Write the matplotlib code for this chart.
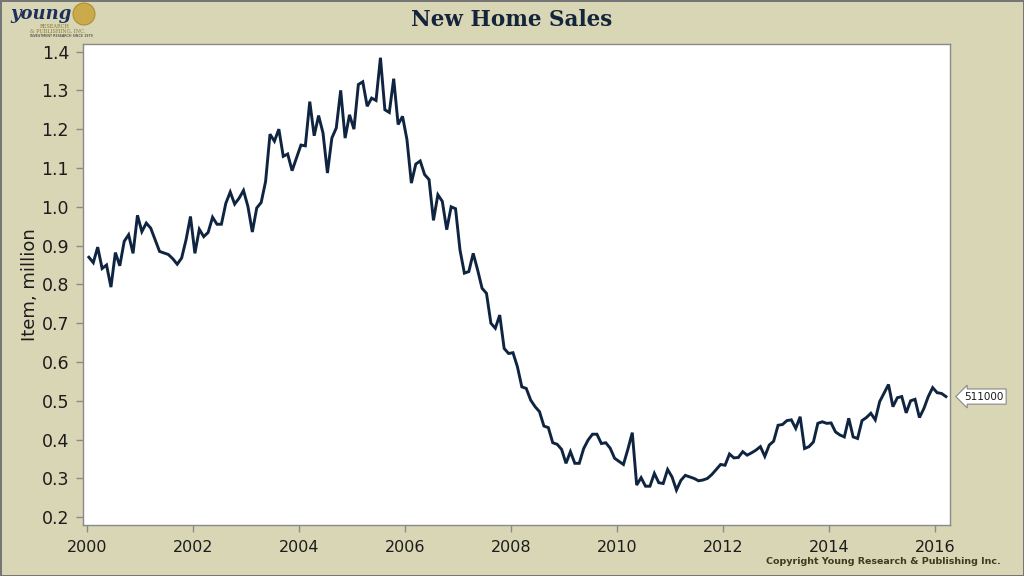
import numpy as np
import matplotlib
matplotlib.use('Agg')
import matplotlib.pyplot as plt
from matplotlib.patches import Circle
from matplotlib.transforms import IdentityTransform, blended_transform_factory

# --- DATA (new home sales, million, monthly from Jan 2000) ---
start_year = 2000
sales = [
    0.870, 0.856, 0.896, 0.841, 0.850, 0.793, 0.882, 0.848, 0.911, 0.928, 0.880, 0.978,  # 2000
    0.936, 0.958, 0.945, 0.915, 0.885, 0.881, 0.877, 0.866, 0.852, 0.868, 0.915, 0.975,  # 2001
    0.880, 0.942, 0.923, 0.934, 0.973, 0.955, 0.955, 1.009, 1.038, 1.007, 1.022, 1.042,  # 2002
    1.001, 0.935, 0.997, 1.011, 1.065, 1.187, 1.169, 1.200, 1.130, 1.136, 1.093, 1.126,  # 2003
    1.159, 1.157, 1.271, 1.183, 1.235, 1.190, 1.087, 1.177, 1.203, 1.300, 1.177, 1.237,  # 2004
    1.200, 1.315, 1.322, 1.259, 1.280, 1.274, 1.384, 1.250, 1.243, 1.330, 1.212, 1.233,  # 2005
    1.173, 1.061, 1.110, 1.118, 1.083, 1.070, 0.965, 1.031, 1.014, 0.941, 1.000, 0.995,  # 2006
    0.889, 0.829, 0.833, 0.880, 0.837, 0.790, 0.777, 0.700, 0.687, 0.721, 0.635, 0.622,  # 2007
    0.624, 0.588, 0.536, 0.532, 0.502, 0.485, 0.472, 0.435, 0.431, 0.392, 0.388, 0.375,  # 2008
    0.339, 0.369, 0.339, 0.339, 0.377, 0.399, 0.414, 0.414, 0.390, 0.392, 0.378, 0.352,  # 2009
    0.344, 0.336, 0.375, 0.418, 0.283, 0.302, 0.280, 0.280, 0.313, 0.289, 0.287, 0.323,  # 2010
    0.304, 0.270, 0.295, 0.308, 0.304, 0.300, 0.294, 0.296, 0.300, 0.310, 0.323, 0.336,  # 2011
    0.334, 0.363, 0.353, 0.354, 0.369, 0.360, 0.366, 0.373, 0.382, 0.357, 0.386, 0.396,  # 2012
    0.437, 0.439, 0.449, 0.451, 0.429, 0.459, 0.377, 0.382, 0.394, 0.442, 0.446, 0.442,  # 2013
    0.443, 0.420, 0.412, 0.407, 0.455, 0.407, 0.403, 0.449, 0.457, 0.468, 0.451, 0.498,  # 2014
    0.520, 0.542, 0.485, 0.508, 0.511, 0.469, 0.500, 0.504, 0.457, 0.480, 0.511, 0.534,  # 2015
    0.521, 0.519, 0.511,                                                                 # 2016
]
xtick_years = list(range(2000, 2017, 2))
ytick_vals = [0.2, 0.3, 0.4, 0.5, 0.6, 0.7, 0.8, 0.9, 1.0, 1.1, 1.2, 1.3, 1.4]
last_label = '511000'
title = 'New Home Sales'
ylabel = 'Item, million'
copyright_txt = 'Copyright Young Research & Publishing Inc.'

# --- STYLE ---
C = dict(bg='#d8d6b4', line='#0f2440', text='#1c1c1c', spine='#8a8a8a',
         title='#14243a', copy='#3c3c1e', border='#767676', gold='#c9a640')

x = start_year + (np.arange(len(sales)) + 0.5) / 12.0

fig = plt.figure(figsize=(10.24, 5.76), dpi=100, facecolor=C['bg'])
fig.patch.set_edgecolor(C['border'])
fig.patch.set_linewidth(2)
ax = fig.add_axes([0.081, 0.0885, 0.847, 0.8355])
ax.set_facecolor('white')

ax.plot(x, sales, color=C['line'], lw=2.1, solid_joinstyle='miter')

ax.set_xlim(1999.93, 2016.29)
ax.set_ylim(0.18, 1.42)
ax.set_xticks(xtick_years)
ax.set_xticklabels([str(y) for y in xtick_years])
ax.set_yticks(ytick_vals)
ax.set_yticklabels([f'{v:.1f}' for v in ytick_vals])
ax.tick_params(axis='both', direction='out', length=5, width=1, color=C['spine'],
               labelcolor=C['text'], labelsize=11.5, pad=4)
ax.tick_params(axis='y', labelsize=12.5, pad=5)
ax.tick_params(axis='x', pad=6)
for s in ax.spines.values():
    s.set_color(C['spine'])
    s.set_linewidth(1)

ax.set_ylabel(ylabel, fontsize=13, color=C['text'],
              family=['Liberation Sans Narrow', 'DejaVu Sans'], labelpad=2)

# end-of-series value tag
tr = blended_transform_factory(ax.transAxes, ax.transData)
ax.text(1.016, sales[-1], last_label, transform=tr, ha='left', va='center',
        fontsize=7.5, color=C['text'], clip_on=False,
        bbox=dict(boxstyle='larrow,pad=0.25', fc='white', ec='#888888', lw=0.8))

fig.text(0.5, 0.965, title, ha='center', va='center', fontsize=15.5,
         fontweight='bold', color=C['title'], family='DejaVu Serif')

fig.text(0.977, 0.026, copyright_txt, ha='right', va='center', fontsize=6.8,
         fontweight='bold', color=C['copy'])

# logo
H = 576
fig.add_artist(Circle((84, H - 14), 11, transform=IdentityTransform(),
                      fc=C['gold'], ec='#a88a30', lw=0.8, alpha=0.9))
fig.text(10 / 1024, 1 - 14 / 576, 'young', ha='left', va='center', fontsize=13,
         fontstyle='italic', fontweight='bold', color='#1d2f5c', family='DejaVu Serif')
fig.text(40 / 1024, 1 - 27 / 576, 'RESEARCH', ha='left', va='center',
         fontsize=3.6, color='#8a7a3a', family='DejaVu Serif')
fig.text(30 / 1024, 1 - 31.5 / 576, '& PUBLISHING, INC.', ha='left', va='center',
         fontsize=3.6, color='#8a7a3a', family='DejaVu Serif')
fig.text(30 / 1024, 1 - 36 / 576, 'INVESTMENT RESEARCH SINCE 1979', ha='left',
         va='center', fontsize=2.4, color='#222222')

fig.savefig('out.png', dpi=100, facecolor=C['bg'], edgecolor=C['border'])
